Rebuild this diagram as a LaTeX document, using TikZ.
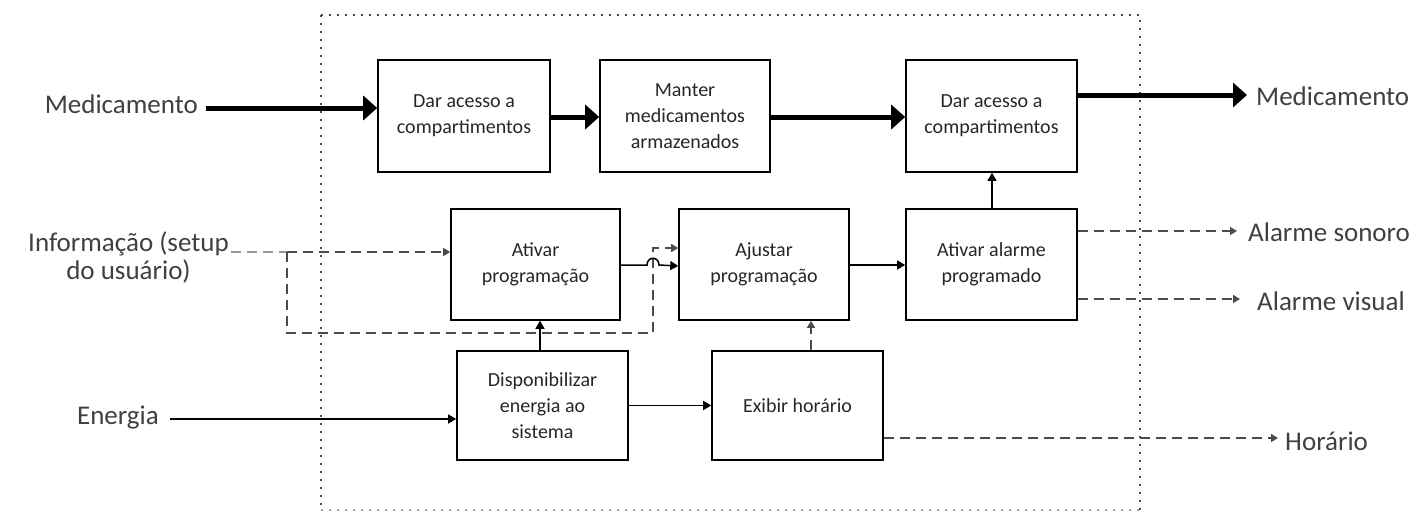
\documentclass[tikz,border=0pt]{standalone}
\usepackage{fontspec}
\setmainfont{Carlito}
\usetikzlibrary{arrows.meta}
\begin{document}
\begin{tikzpicture}[x=1pt,y=-1pt,
  blk/.style={draw, line width=1.6pt, align=center, inner sep=0pt,
    font=\fontsize{20}{26}\selectfont, text=black!85},
  lbl/.style={inner sep=0pt, font=\fontsize{27}{28}\selectfont, text=black!75, align=center},
  thick arrow/.style={line width=5pt, -{Triangle[length=14pt,width=24pt]}},
  thin arrow/.style={line width=1.5pt, -{Triangle[length=8pt,width=9pt]}},
  dsh/.style={line width=1.5pt, black!70, dash pattern=on 10pt off 6pt},
  dsh arrow/.style={dsh, -{Triangle[length=7pt,width=8pt]}},
  frame/.style={line width=1.8pt, black!70, dash pattern=on 1.8pt off 6.2pt}
]
\useasboundingbox (0,0) rectangle (1426,511);
% system boundary
\draw[frame] (321,15) -- (1140,15) -- (1140,511);
\draw[frame] (321,15) -- (321,511);
\draw[frame, black!35] (321,510) -- (1140,510);

% blocks
\node[blk, minimum width=172pt, minimum height=112pt] (b1) at (464,116) {Dar acesso a\\compartimentos};
\node[blk, minimum width=170pt, minimum height=112pt] (b2) at (685,116) {Manter\\medicamentos\\armazenados};
\node[blk, minimum width=171pt, minimum height=112pt] (b3) at (991.5,116) {Dar acesso a\\compartimentos};
\node[blk, minimum width=169pt, minimum height=111pt] (a1) at (535.5,264.5) {Ativar\\programação};
\node[blk, minimum width=170pt, minimum height=111pt] (a2) at (764,264.5) {Ajustar\\programação};
\node[blk, minimum width=171pt, minimum height=111pt] (a3) at (991.5,264.5) {Ativar alarme\\programado};
\node[blk, minimum width=171pt, minimum height=109pt] (d1) at (542.5,405.5) {Disponibilizar\\energia ao\\sistema};
\node[blk, minimum width=171pt, minimum height=109pt] (d2) at (797.5,405.5) {Exibir horário};

% outer labels
\node[lbl, anchor=east] (medin) at (198,104) {Medicamento};
\node[lbl, anchor=west] (medout) at (1256,96) {Medicamento};
\node[lbl, anchor=east] (info) at (229,258) {Informação (setup\\do usuário)};
\node[lbl, anchor=east] (energ) at (159,418) {Energia};
\node[lbl, anchor=west] (sonoro) at (1248,232) {Alarme sonoro};
\node[lbl, anchor=west] (visual) at (1257,301) {Alarme visual};
\node[lbl, anchor=west] (hor) at (1285,441) {Horário};

% helper coordinates
\coordinate (infoend) at (231,252);
\coordinate (br) at (287,252);
\coordinate (hop) at (653,265);

% thick medicine flow
\draw[thick arrow] (206,108) -- (b1.west |- 0,108);
\draw[thick arrow] (b1.east |- 0,117) -- (b2.west |- 0,117);
\draw[thick arrow] (b2.east |- 0,117) -- (b3.west |- 0,117);
\draw[thick arrow] (b3.east |- 0,95) -- ([xshift=-9pt]medout.west |- 0,95);

% information (dashed)
\draw[dsh, black!40] (infoend) -- (br);
\draw[dsh arrow] (br) -- (a1.west |- br);
\draw[dsh arrow] (br) -- (287,333) -- (hop |- 0,333) -- (hop |- 0,248) -- (a2.west |- 0,248);

% solid signal flow
\draw[thin arrow] (a1.east |- hop) -- ([xshift=-6pt]hop) .. controls ([xshift=-6pt,yshift=9pt]hop) and ([xshift=6pt,yshift=9pt]hop) .. ([xshift=6pt]hop) -- (a2.west |- 0,266);
\draw[thin arrow] (a2.east |- 0,265) -- (a3.west |- 0,265);
\draw[thin arrow] (a3.north -| 992,0) -- (b3.south -| 992,0);
\draw[thin arrow] (d1.north -| 540,0) -- (a1.south -| 540,0);
\draw[thin arrow] (170,419) -- (d1.west |- 0,419);
\draw[thin arrow] (d1.east) -- (d2.west);
\draw[dsh arrow] (d2.north -| 811,0) -- (a2.south -| 811,0);

% outputs (dashed)
\draw[dsh arrow] (a3.east |- 0,231) -- (1237,231);
\draw[dsh arrow] (a3.east |- 0,299) -- (1240,299);
\draw[dsh arrow] (d2.east |- 0,438) -- (1278,438);
\end{tikzpicture}
\end{document}
